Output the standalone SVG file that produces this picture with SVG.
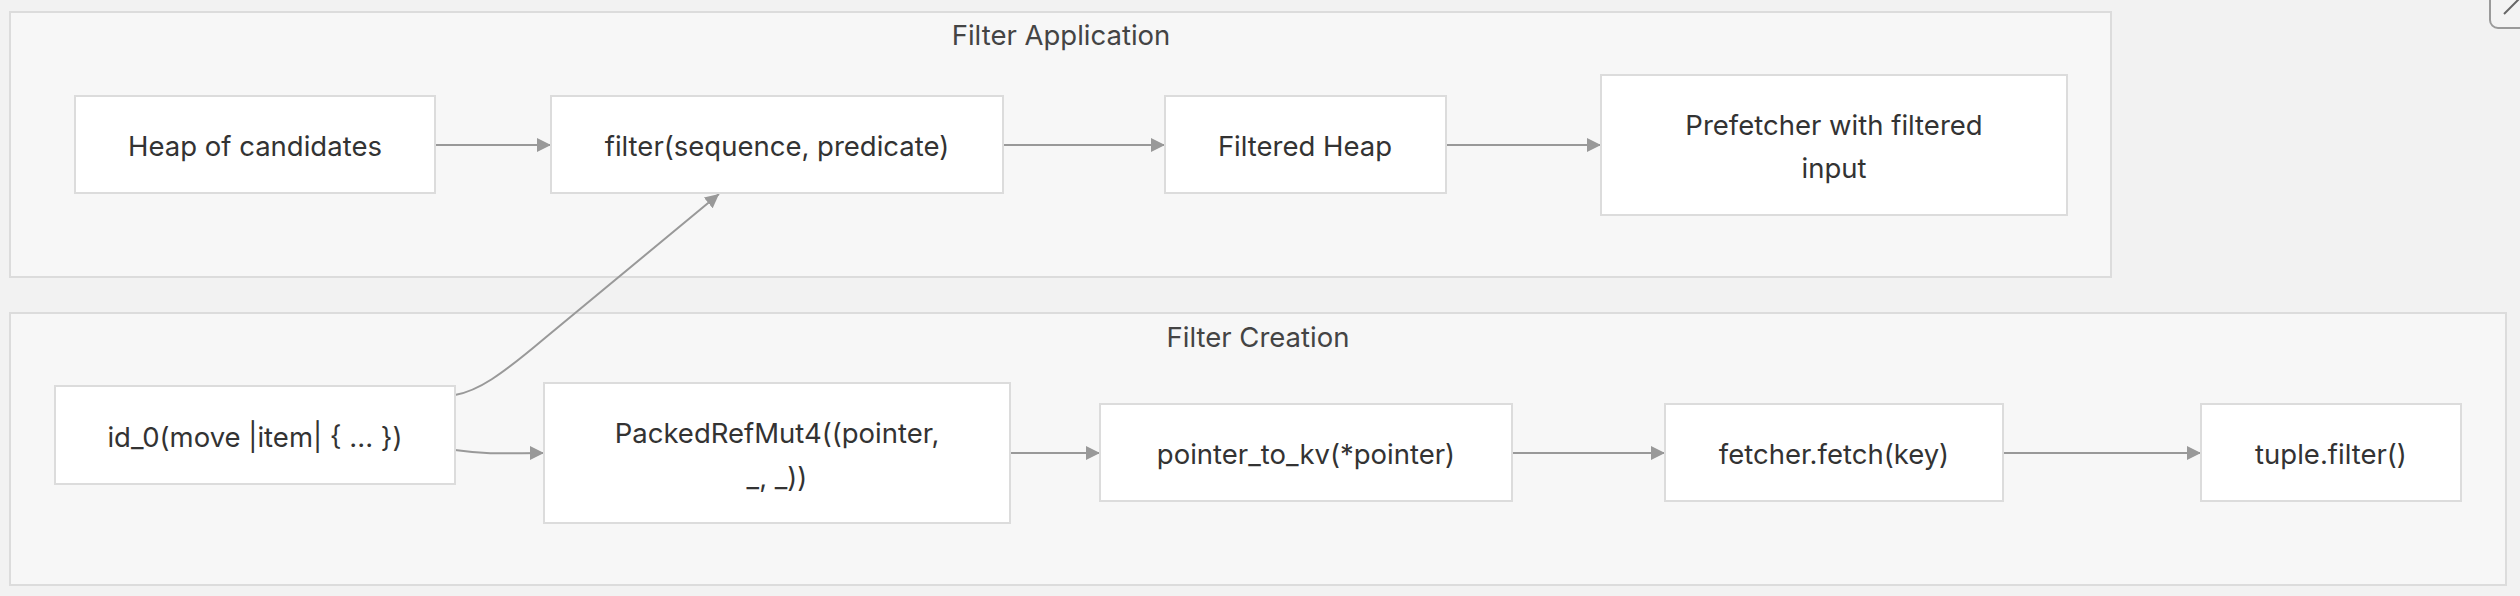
<svg xmlns="http://www.w3.org/2000/svg" width="2520" height="596" viewBox="0 0 2520 596">
<defs>
<style>
.bg{fill:#f2f2f2}
.cluster{fill:#f7f7f7;stroke:#dcdcdc;stroke-width:2}
.node rect{fill:#ffffff;stroke:#dcdcdc;stroke-width:2}
text{font-family:Inter,"Liberation Sans",sans-serif;font-size:27.5px;fill:#333333;text-anchor:middle;dominant-baseline:central}
.title{fill:#444444}
.edge{fill:none;stroke:#999999;stroke-width:2}
</style>
<marker id="arrow" viewBox="0 0 10 10" refX="10" refY="5" markerWidth="14" markerHeight="14" markerUnits="userSpaceOnUse" orient="auto">
<path d="M0,0 L10,5 L0,10 z" fill="#999999"/>
</marker>
</defs>
<rect class="bg" x="0" y="0" width="2520" height="596"/>
<g id="cluster-filter-application">
<rect class="cluster" x="10" y="12" width="2101" height="265"/>
<text class="title" x="1061" y="35">Filter Application</text>
</g>
<g id="cluster-filter-creation">
<rect class="cluster" x="10" y="313" width="2496" height="272"/>
<text class="title" x="1258" y="337">Filter Creation</text>
</g>
<g id="edges">
<path class="edge" d="M435,145 L551,145" marker-end="url(#arrow)"/>
<path class="edge" d="M1003,145 L1165,145" marker-end="url(#arrow)"/>
<path class="edge" d="M1446,145 L1601,145" marker-end="url(#arrow)"/>
<path class="edge" d="M455,395 C478,391 500,376 545,338 L719,194" marker-end="url(#arrow)"/>
<path class="edge" d="M455,450 C490,455 510,453 544,453" marker-end="url(#arrow)"/>
<path class="edge" d="M1010,453 L1100,453" marker-end="url(#arrow)"/>
<path class="edge" d="M1512,453 L1665,453" marker-end="url(#arrow)"/>
<path class="edge" d="M2003,453 L2201,453" marker-end="url(#arrow)"/>
</g>
<g id="node-heap" class="node">
<rect x="75" y="96" width="360" height="97"/>
<text x="255" y="146">Heap of candidates</text>
</g>
<g id="node-filter" class="node">
<rect x="551" y="96" width="452" height="97"/>
<text x="777" y="146">filter(sequence, predicate)</text>
</g>
<g id="node-filtered-heap" class="node">
<rect x="1165" y="96" width="281" height="97"/>
<text x="1305" y="146">Filtered Heap</text>
</g>
<g id="node-prefetcher" class="node">
<rect x="1601" y="75" width="466" height="140"/>
<text x="1834" y="125">Prefetcher with filtered</text>
<text x="1834" y="168">input</text>
</g>
<g id="node-id0" class="node">
<rect x="55" y="386" width="400" height="98"/>
<text x="255" y="437">id_0(move |item| { ... })</text>
</g>
<g id="node-packed" class="node">
<rect x="544" y="383" width="466" height="140"/>
<text x="777" y="433">PackedRefMut4((pointer,</text>
<text x="777" y="477">_, _))</text>
</g>
<g id="node-pointer-to-kv" class="node">
<rect x="1100" y="404" width="412" height="97"/>
<text x="1306" y="454">pointer_to_kv(*pointer)</text>
</g>
<g id="node-fetch" class="node">
<rect x="1665" y="404" width="338" height="97"/>
<text x="1834" y="454">fetcher.fetch(key)</text>
</g>
<g id="node-tuple-filter" class="node">
<rect x="2201" y="404" width="260" height="97"/>
<text x="2331" y="454">tuple.filter()</text>
</g>
<g id="corner-button">
<rect x="2490" y="-20" width="44" height="48" rx="8" fill="#f3f3f3" stroke="#9a9a9a" stroke-width="2"/>
<path d="M2504,14 L2520,-2" stroke="#666666" stroke-width="2" fill="none"/>
</g>
</svg>
